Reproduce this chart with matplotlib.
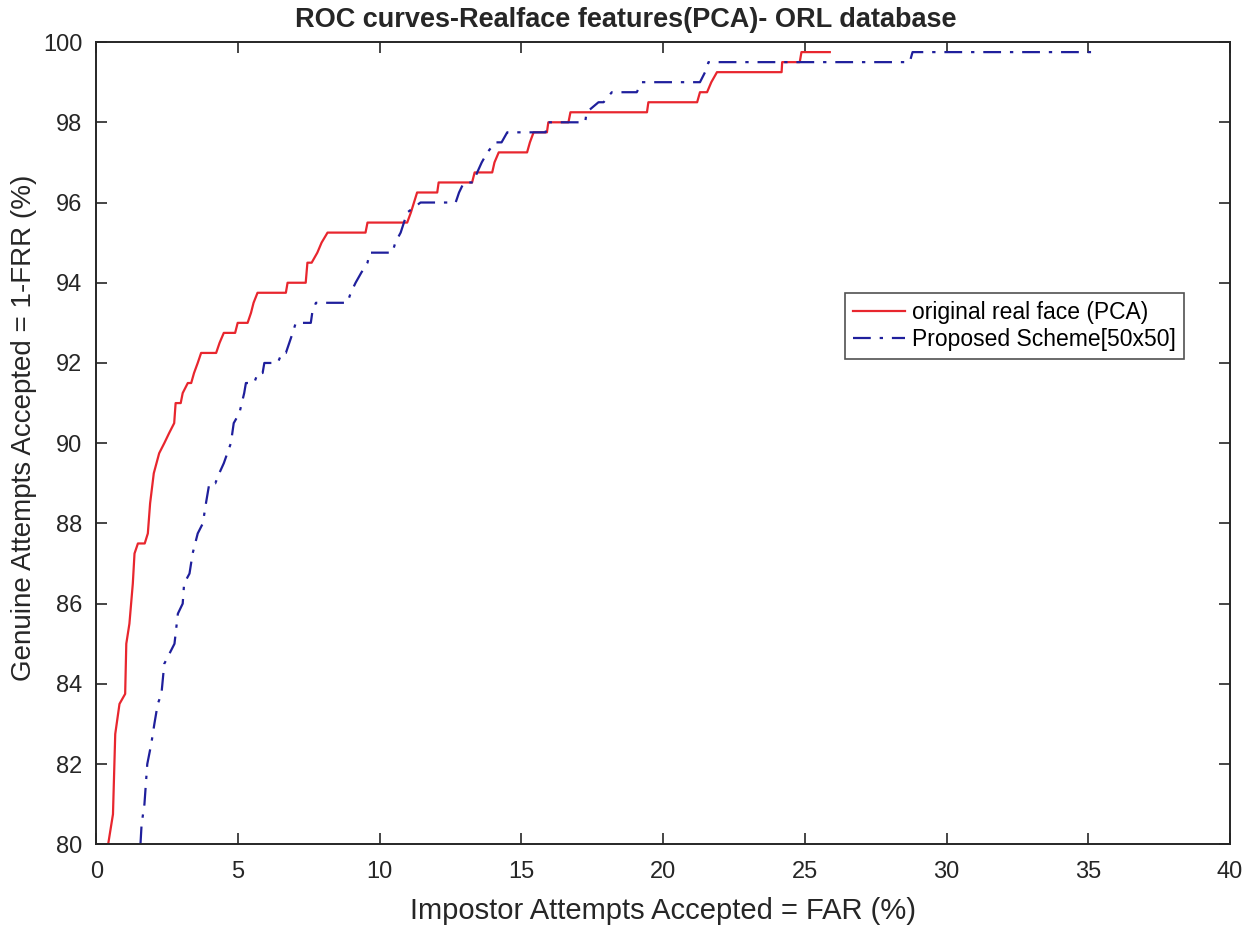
import numpy as np
import matplotlib
matplotlib.use("Agg")
from matplotlib import pyplot as plt

plt.rcParams['font.family'] = ['Liberation Sans', 'DejaVu Sans']

# ROC-Punkte (FAR in %, 1-FRR in %)
far_pca = [0.42, 0.59, 0.67, 0.82, 1.02, 1.06, 1.17, 1.29, 1.35, 1.47, 1.71, 1.82, 1.9, 2.03,
           2.22, 2.4, 2.57, 2.75, 2.8, 2.98, 3.05, 3.23, 3.35, 3.45, 3.58, 3.7, 4.23, 4.35,
           4.5, 4.9, 4.99, 5.34, 5.46, 5.55, 5.69, 6.69, 6.75, 7.39, 7.45, 7.6, 7.8, 7.95,
           8.16, 9.5, 9.57, 10.97, 11.1, 11.32, 12.03, 12.08, 13.26, 13.35, 13.97, 14.05,
           14.2, 15.2, 15.3, 15.43, 15.9, 15.95, 16.66, 16.73, 19.43, 19.48, 21.2, 21.3,
           21.55, 21.7, 21.9, 24.18, 24.2, 24.82, 24.88, 25.88]
gar_pca = [80.0, 80.75, 82.75, 83.5, 83.75, 85.0, 85.5, 86.5, 87.25, 87.5, 87.5, 87.75, 88.5, 89.25,
           89.75, 90.0, 90.25, 90.5, 91.0, 91.0, 91.25, 91.5, 91.5, 91.75, 92.0, 92.25, 92.25, 92.5,
           92.75, 92.75, 93.0, 93.0, 93.25, 93.5, 93.75, 93.75, 94.0, 94.0, 94.5, 94.5, 94.75, 95.0,
           95.25, 95.25, 95.5, 95.5, 95.75, 96.25, 96.25, 96.5, 96.5, 96.75, 96.75, 97.0,
           97.25, 97.25, 97.5, 97.75, 97.75, 98.0, 98.0, 98.25, 98.25, 98.5, 98.5, 98.75,
           98.75, 99.0, 99.25, 99.25, 99.5, 99.5, 99.75, 99.75]

far_prop = [1.56, 1.6, 1.7, 1.8, 1.94, 2.05, 2.17, 2.3, 2.4, 2.58, 2.76, 2.88, 3.05, 3.1, 3.29,
            3.4, 3.58, 3.76, 3.87, 3.99, 4.2, 4.34, 4.5, 4.75, 4.85, 5.05, 5.22, 5.28, 5.57,
            5.7, 5.87, 5.93, 6.4, 6.55, 6.69, 6.93, 7.04, 7.57, 7.62, 7.75, 8.86, 8.98, 9.15,
            9.35, 9.57, 9.65, 10.45, 10.55, 10.74, 10.97, 11.44, 12.68, 12.8, 12.97, 13.3,
            13.44, 13.6, 13.8, 14.08, 14.3, 14.5, 15.85, 15.95, 17.25, 17.3, 17.72, 17.9,
            18.19, 19.07, 19.25, 21.3, 21.48, 21.6, 28.7, 28.8, 35.1]
gar_prop = [80.0, 80.5, 81.0, 82.0, 82.5, 83.0, 83.5, 83.75, 84.5, 84.75, 85.0, 85.75, 86.0, 86.5, 86.75,
            87.25, 87.75, 88.0, 88.5, 89.0, 89.0, 89.25, 89.5, 90.0, 90.5, 90.75, 91.25, 91.5, 91.5,
            91.75, 91.75, 92.0, 92.0, 92.25, 92.25, 92.75, 93.0, 93.0, 93.25, 93.5, 93.5, 93.75, 94.0,
            94.25, 94.5, 94.75, 94.75, 95.0, 95.25, 95.75, 96.0, 96.0, 96.25, 96.5, 96.5,
            96.75, 97.0, 97.25, 97.5, 97.5, 97.75, 97.75, 98.0, 98.0, 98.25, 98.5, 98.5,
            98.75, 98.75, 99.0, 99.0, 99.25, 99.5, 99.5, 99.75, 99.75]

xticks = np.arange(0, 41, 5)
yticks = np.arange(80, 101, 2)

fig = plt.figure(figsize=(12.5, 9.35), dpi=100)
ax = fig.add_axes([0.077, 0.097, 0.907, 0.858])

ax.plot(far_pca, gar_pca, color="#e8262e", lw=1.6, label="original real face (PCA)")
ax.plot(far_prop, gar_prop, color="#1f1f9c", lw=1.6, linestyle=(0, (8, 4, 1.5, 4)),
        label="Proposed Scheme[50x50]")

ax.set_xlim(0, 40)
ax.set_ylim(80, 100)
ax.set_xticks(xticks)
ax.set_yticks(yticks)
ax.tick_params(direction="in", length=8, width=1.2, labelsize=17, top=True, right=True,
               colors="#262626")
ax.tick_params(axis="x", pad=12)
ax.tick_params(axis="y", pad=10)
for s in ax.spines.values():
    s.set_linewidth(1.4)
    s.set_color("#262626")

ax.set_xlabel("Impostor Attempts Accepted = FAR (%)", fontsize=21, color="#262626", labelpad=10)
ax.set_ylabel("Genuine Attempts Accepted = 1-FRR (%)", fontsize=20, color="#262626")
ax.yaxis.set_label_coords(-0.052, 0.519)
ax.set_title("ROC curves-Realface features(PCA)- ORL database", fontsize=19.5,
             fontweight="bold", color="#262626", pad=11, x=0.467)

leg = ax.legend(loc="upper left", bbox_to_anchor=(0.66, 0.687), fontsize=16.5,
                frameon=True, fancybox=False, handlelength=2.3, handletextpad=0.3,
                borderpad=0.35, labelspacing=0.15, borderaxespad=0)
leg.get_frame().set_edgecolor("#262626")
leg.get_frame().set_linewidth(1.2)

plt.savefig("out.png", dpi=100)
